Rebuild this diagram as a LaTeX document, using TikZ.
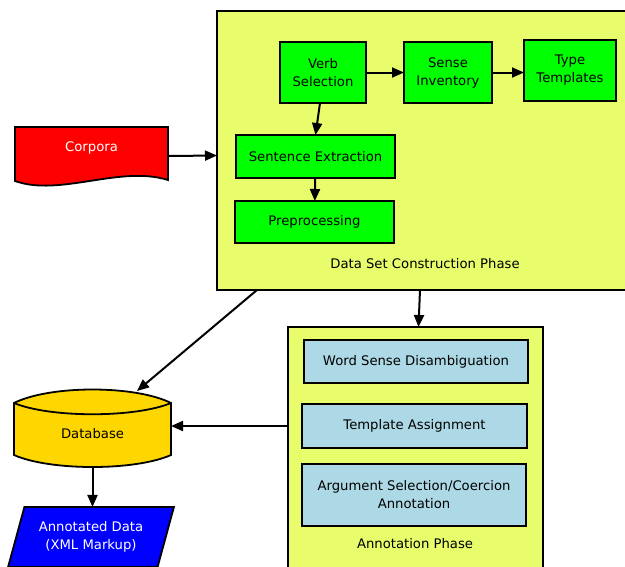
\documentclass[tikz,border=0pt]{standalone}
\usepackage{fontspec}
\setmainfont{DejaVu Sans}
\usepackage{tikz}
\usetikzlibrary{arrows.meta,shapes.geometric}

\definecolor{phase}{RGB}{233,252,108}
\definecolor{stepgreen}{RGB}{0,255,0}
\definecolor{annblue}{RGB}{173,216,230}
\definecolor{dbgold}{RGB}{255,215,0}

\begin{document}
\begin{tikzpicture}[x=1pt,y=-1pt,
    every node/.style={font=\fontsize{13.2}{18}\selectfont, align=center, outer sep=0pt},
    phasebox/.style={draw, line width=1.8pt, fill=phase},
    greenbox/.style={draw, line width=1.8pt, fill=stepgreen},
    bluebox/.style={draw, line width=1.8pt, fill=annblue},
    arr/.style={draw, line width=2pt, -{Triangle[length=12pt,width=10pt]}}]
  \useasboundingbox (0,0) rectangle (625,566);
  \clip (0,0) rectangle (625,566);
  % phases
  \node[phasebox, minimum width=416pt, minimum height=279pt] (dsc) at (425,150.5) {};
  \node at (425,264) {Data Set Construction Phase};
  \node[phasebox, minimum width=255pt, minimum height=253pt] (annot) at (415.5,453.5) {};
  \node at (415,544) {Annotation Phase};
  % construction steps
  \node[greenbox, minimum width=86pt, minimum height=61pt] (verb) at (323,72.5) {Verb\\Selection};
  \node[greenbox, minimum width=88pt, minimum height=61pt] (sense) at (448,72.5) {Sense\\Inventory};
  \node[greenbox, minimum width=92pt, minimum height=61pt] (type) at (570,70.5) {Type\\Templates};
  \node[greenbox, minimum width=159pt, minimum height=43pt] (sent) at (315.5,156.5) {Sentence Extraction};
  \node[greenbox, minimum width=159pt, minimum height=42pt] (prep) at (314.5,222) {Preprocessing};
  % annotation steps
  \node[bluebox, minimum width=224pt, minimum height=43pt] (wsd) at (416,361.5) {Word Sense Disambiguation};
  \node[bluebox, minimum width=225pt, minimum height=44pt] (tmpl) at (414.5,426) {Template Assignment};
  \node[bluebox, minimum width=224pt, minimum height=62pt] (arg) at (414,495) {Argument Selection/Coercion\\Annotation};
  % corpora
  \filldraw[fill=red, line width=1.8pt] (15,127) -- (168,127) -- (168,180)
    .. controls (120,165) and (60,197) .. (15,181) -- cycle;
  \node[text=white, minimum width=153pt] (corpora) at (91.5,148) {Corpora};
  % database
  \filldraw[fill=dbgold, line width=1.8pt] (14,403) .. controls (50,385) and (135,385) .. (171,403)
    -- (171,455) .. controls (135,471) and (50,471) .. (14,455) -- cycle;
  \draw[line width=1.8pt] (14,403) .. controls (50,418) and (135,418) .. (171,403);
  \node[minimum width=157pt, minimum height=66pt] (db) at (92.5,434) {Database};
  \coordinate (dbtop) at (137,391);
  % output
  \node[draw, line width=1.8pt, fill=blue, text=white, trapezium, trapezium left angle=70,
    trapezium right angle=110, trapezium stretches=true, minimum width=166pt, minimum height=60pt]
    (out) at (91,537) {Annotated Data\\(XML Markup)};
  % arrows
  \draw[arr] ([yshift=-8pt]corpora.east) -- ([yshift=-5pt]dsc.west);
  \draw[arr] (verb) -- (sense);
  \draw[arr] (sense.east) -- (sense.east -| type.west);
  \draw[arr] ([xshift=-3pt]verb.south) -- (sent.north);
  \draw[arr] (sent) -- (prep);
  \draw[arr] ([xshift=-5pt]dsc.south) -- ([xshift=3pt]annot.north);
  \draw[arr] ([xshift=40pt]dsc.south west) -- (dbtop);
  \draw[arr] (annot.west |- tmpl) -- (db.east |- tmpl);
  \draw[arr] (db.south) -- (db.south |- out.north);
\end{tikzpicture}
\end{document}
